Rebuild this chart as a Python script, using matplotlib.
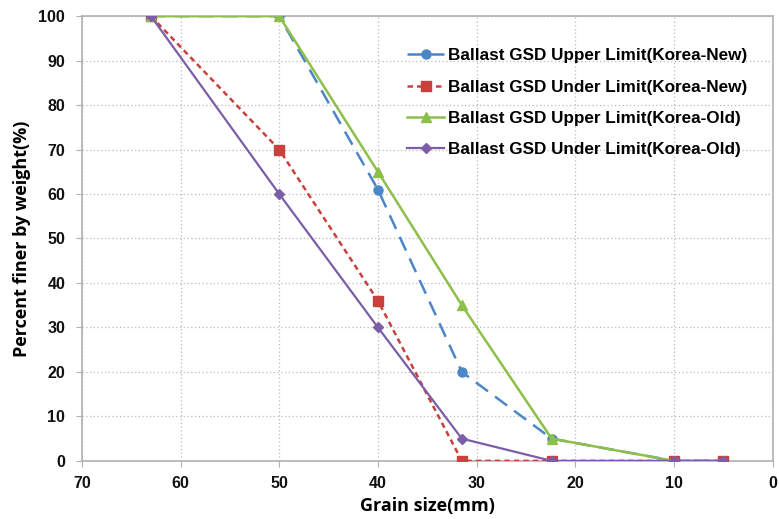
import matplotlib
matplotlib.use("Agg")
import matplotlib.pyplot as plt

grain_size = [63, 50, 40, 31.5, 22.4, 10, 5]
upper_new = [100, 100, 61, 20, 5, 0, 0]
under_new = [100, 70, 36, 0, 0, 0, 0]
upper_old = [100, 100, 65, 35, 5, 0, 0]
under_old = [100, 60, 30, 5, 0, 0, 0]
labels = ["Ballast GSD Upper Limit(Korea-New)",
          "Ballast GSD Under Limit(Korea-New)",
          "Ballast GSD Upper Limit(Korea-Old)",
          "Ballast GSD Under Limit(Korea-Old)"]
x_ticks = [70, 60, 50, 40, 30, 20, 10, 0]
y_ticks = [0, 10, 20, 30, 40, 50, 60, 70, 80, 90, 100]

fig = plt.figure(figsize=(7.79, 5.19), dpi=100)
ax = fig.add_axes([0.105, 0.112, 0.887, 0.857])

ax.plot(grain_size, upper_new, color="#4a86c8", ls=(0, (6, 3.5)), lw=1.8,
        marker="o", ms=6.5, label=labels[0], zorder=3)
ax.plot(grain_size, under_new, color="#c8413c", ls=(0, (2.2, 1.6)), lw=1.8,
        marker="s", ms=6.5, label=labels[1], zorder=3)
ax.plot(grain_size, upper_old, color="#8dbf4a", ls="-", lw=1.8,
        marker="^", ms=6.5, label=labels[2], zorder=4)
ax.plot(grain_size, under_old, color="#7b5ea7", ls="-", lw=1.6,
        marker="D", ms=5, label=labels[3], zorder=5)

ax.set_xlim(70, 0)
ax.set_ylim(0, 100)
ax.set_xticks(x_ticks)
ax.set_yticks(y_ticks)
ax.grid(True, ls=(0, (1, 2)), color="#bbbbbb", lw=0.9)
for s in ax.spines.values():
    s.set_color("#b0b0b0")
    s.set_linewidth(1.2)
ax.tick_params(axis="both", colors="#b0b0b0", labelcolor="#111111", length=4,
               labelsize=11.5)
for t in ax.get_xticklabels() + ax.get_yticklabels():
    t.set_fontfamily("Liberation Sans")
    t.set_fontweight("bold")
ax.tick_params(axis="x", pad=7)
ax.tick_params(axis="y", pad=8)

ax.set_xlabel("Grain size(mm)", fontsize=13, fontweight="bold",
              family="Open Sans", labelpad=4)
ax.set_ylabel("Percent finer by weight(%)", fontsize=13, fontweight="bold",
              family="Open Sans", labelpad=5)

leg = ax.legend(loc="upper right", bbox_to_anchor=(0.985, 0.962), frameon=False,
                prop={"family": "Liberation Sans", "weight": "bold", "size": 12.3},
                handlelength=2.2, labelspacing=0.95, handletextpad=0.2)

fig.savefig("out.png", dpi=100)
